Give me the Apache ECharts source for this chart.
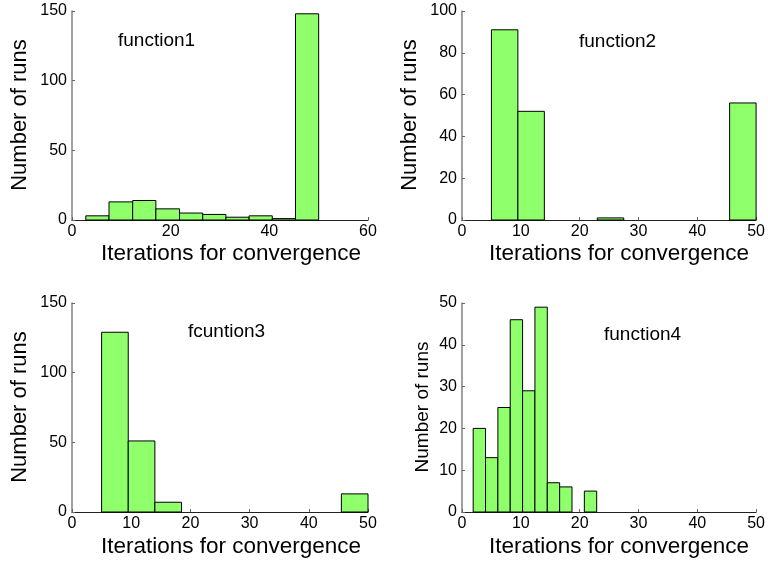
<!DOCTYPE html>
<html>
<head>
<meta charset="utf-8">
<script src="https://cdn.jsdelivr.net/npm/echarts@6/dist/echarts.min.js"></script>
<style>html,body{margin:0;padding:0;background:#fff}#c{width:768px;height:565px}</style>
</head>
<body>
<div id="c"></div>
<script>
// Histogram bin edges and counts
const f1Edges = [2.8, 7.5, 12.3, 17.0, 21.8, 26.5, 31.2, 35.9, 40.6, 45.3, 50.0];
const f1Counts = [3, 13, 14, 8, 5, 4, 2, 3, 1, 148];
const f2Edges = [5, 9.5, 14, 18.5, 23, 27.5, 32, 36.5, 41, 45.5, 50];
const f2Counts = [91, 52, 0, 0, 1, 0, 0, 0, 0, 56];
const f3Edges = [5, 9.5, 14, 18.5, 23, 27.5, 32, 36.5, 41, 45.5, 50];
const f3Counts = [129, 51, 7, 0, 0, 0, 0, 0, 0, 13];
const f4Edges = [1.9, 4.0, 6.1, 8.2, 10.3, 12.4, 14.5, 16.6, 18.7, 20.8, 22.9];
const f4Counts = [20, 13, 25, 46, 29, 49, 7, 6, 0, 5];

const titles = ['function1', 'function2', 'fcuntion3', 'function4'];
const xLabel = 'Iterations for convergence';
const yLabel = 'Number of runs';
const xRanges = [[0, 60, 20], [0, 50, 10], [0, 50, 10], [0, 50, 10]];
const yRanges = [[0, 150, 50], [0, 100, 20], [0, 150, 50], [0, 50, 10]];

const panels = [[f1Edges, f1Counts], [f2Edges, f2Counts], [f3Edges, f3Counts], [f4Edges, f4Counts]];
const FONT = '"Liberation Sans", Arial, sans-serif';

const grids = [
  {left: 72, top: 11, width: 296, height: 209},
  {left: 462, top: 11, width: 295, height: 209},
  {left: 72, top: 303, width: 296, height: 209},
  {left: 462, top: 303, width: 295, height: 209}
];

function toData(edges, counts) {
  const d = [];
  for (let i = 0; i < counts.length; i++) {
    if (counts[i] > 0) d.push([edges[i], edges[i + 1], counts[i]]);
  }
  return d;
}

function renderItem(params, api) {
  const p0 = api.coord([api.value(0), api.value(2)]);
  const p1 = api.coord([api.value(1), 0]);
  return {
    type: 'rect',
    shape: {x: p0[0], y: p0[1], width: p1[0] - p0[0], height: p1[1] - p0[1]},
    style: {fill: '#90ff6c', stroke: '#000', lineWidth: 1}
  };
}

const xAxis = xRanges.map((r, i) => ({
  type: 'value', gridIndex: i, min: r[0], max: r[1], interval: r[2],
  axisLine: {show: true, lineStyle: {color: '#222', width: 1}},
  axisTick: {show: true, inside: true, length: 3, lineStyle: {color: '#666'}},
  axisLabel: {color: '#000', fontSize: 16, fontFamily: FONT, margin: 4},
  splitLine: {show: false}
}));
const yAxis = yRanges.map((r, i) => ({
  type: 'value', gridIndex: i, min: r[0], max: r[1], interval: r[2],
  axisLine: {show: true, lineStyle: {color: '#808080', width: 1.5}},
  axisTick: {show: true, inside: true, length: 3, lineStyle: {color: '#666'}},
  axisLabel: {color: '#000', fontSize: 16, fontFamily: FONT, margin: 5},
  splitLine: {show: false}
}));

const series = panels.map((p, i) => ({
  type: 'custom', xAxisIndex: i, yAxisIndex: i,
  renderItem: renderItem, data: toData(p[0], p[1]),
  encode: {x: [0, 1], y: 2}, z: 5
}));

const titlePos = [[118, 41], [579, 42], [188, 332], [604, 335]];
const xLabPos = [[231, 254], [619, 254], [231, 547], [619, 547]];
const yLabPos = [[20, 115, 22], [410, 115, 22], [20, 407, 22], [423, 407, 19]];

const graphic = [];
titles.forEach((t, i) => graphic.push({
  type: 'text', x: titlePos[i][0], y: titlePos[i][1], z: 10,
  style: {text: t, fontSize: 19, fontFamily: FONT, fill: '#000', verticalAlign: 'middle', align: 'left'}
}));
xLabPos.forEach(p => graphic.push({
  type: 'text', x: p[0], y: p[1], z: 10,
  style: {text: xLabel, fontSize: 22.5, fontFamily: FONT, fill: '#000', verticalAlign: 'middle', align: 'center'}
}));
yLabPos.forEach(p => graphic.push({
  type: 'text', x: p[0], y: p[1], rotation: Math.PI / 2, z: 10,
  style: {text: yLabel, fontSize: p[2], fontFamily: FONT, fill: '#000', verticalAlign: 'middle', align: 'center'}
}));

const chart = echarts.init(document.getElementById('c'), null, {renderer: 'canvas'});
chart.setOption({
  animation: false,
  backgroundColor: '#fff',
  grid: grids,
  xAxis: xAxis,
  yAxis: yAxis,
  series: series,
  graphic: graphic
});
</script>
</body>
</html>
